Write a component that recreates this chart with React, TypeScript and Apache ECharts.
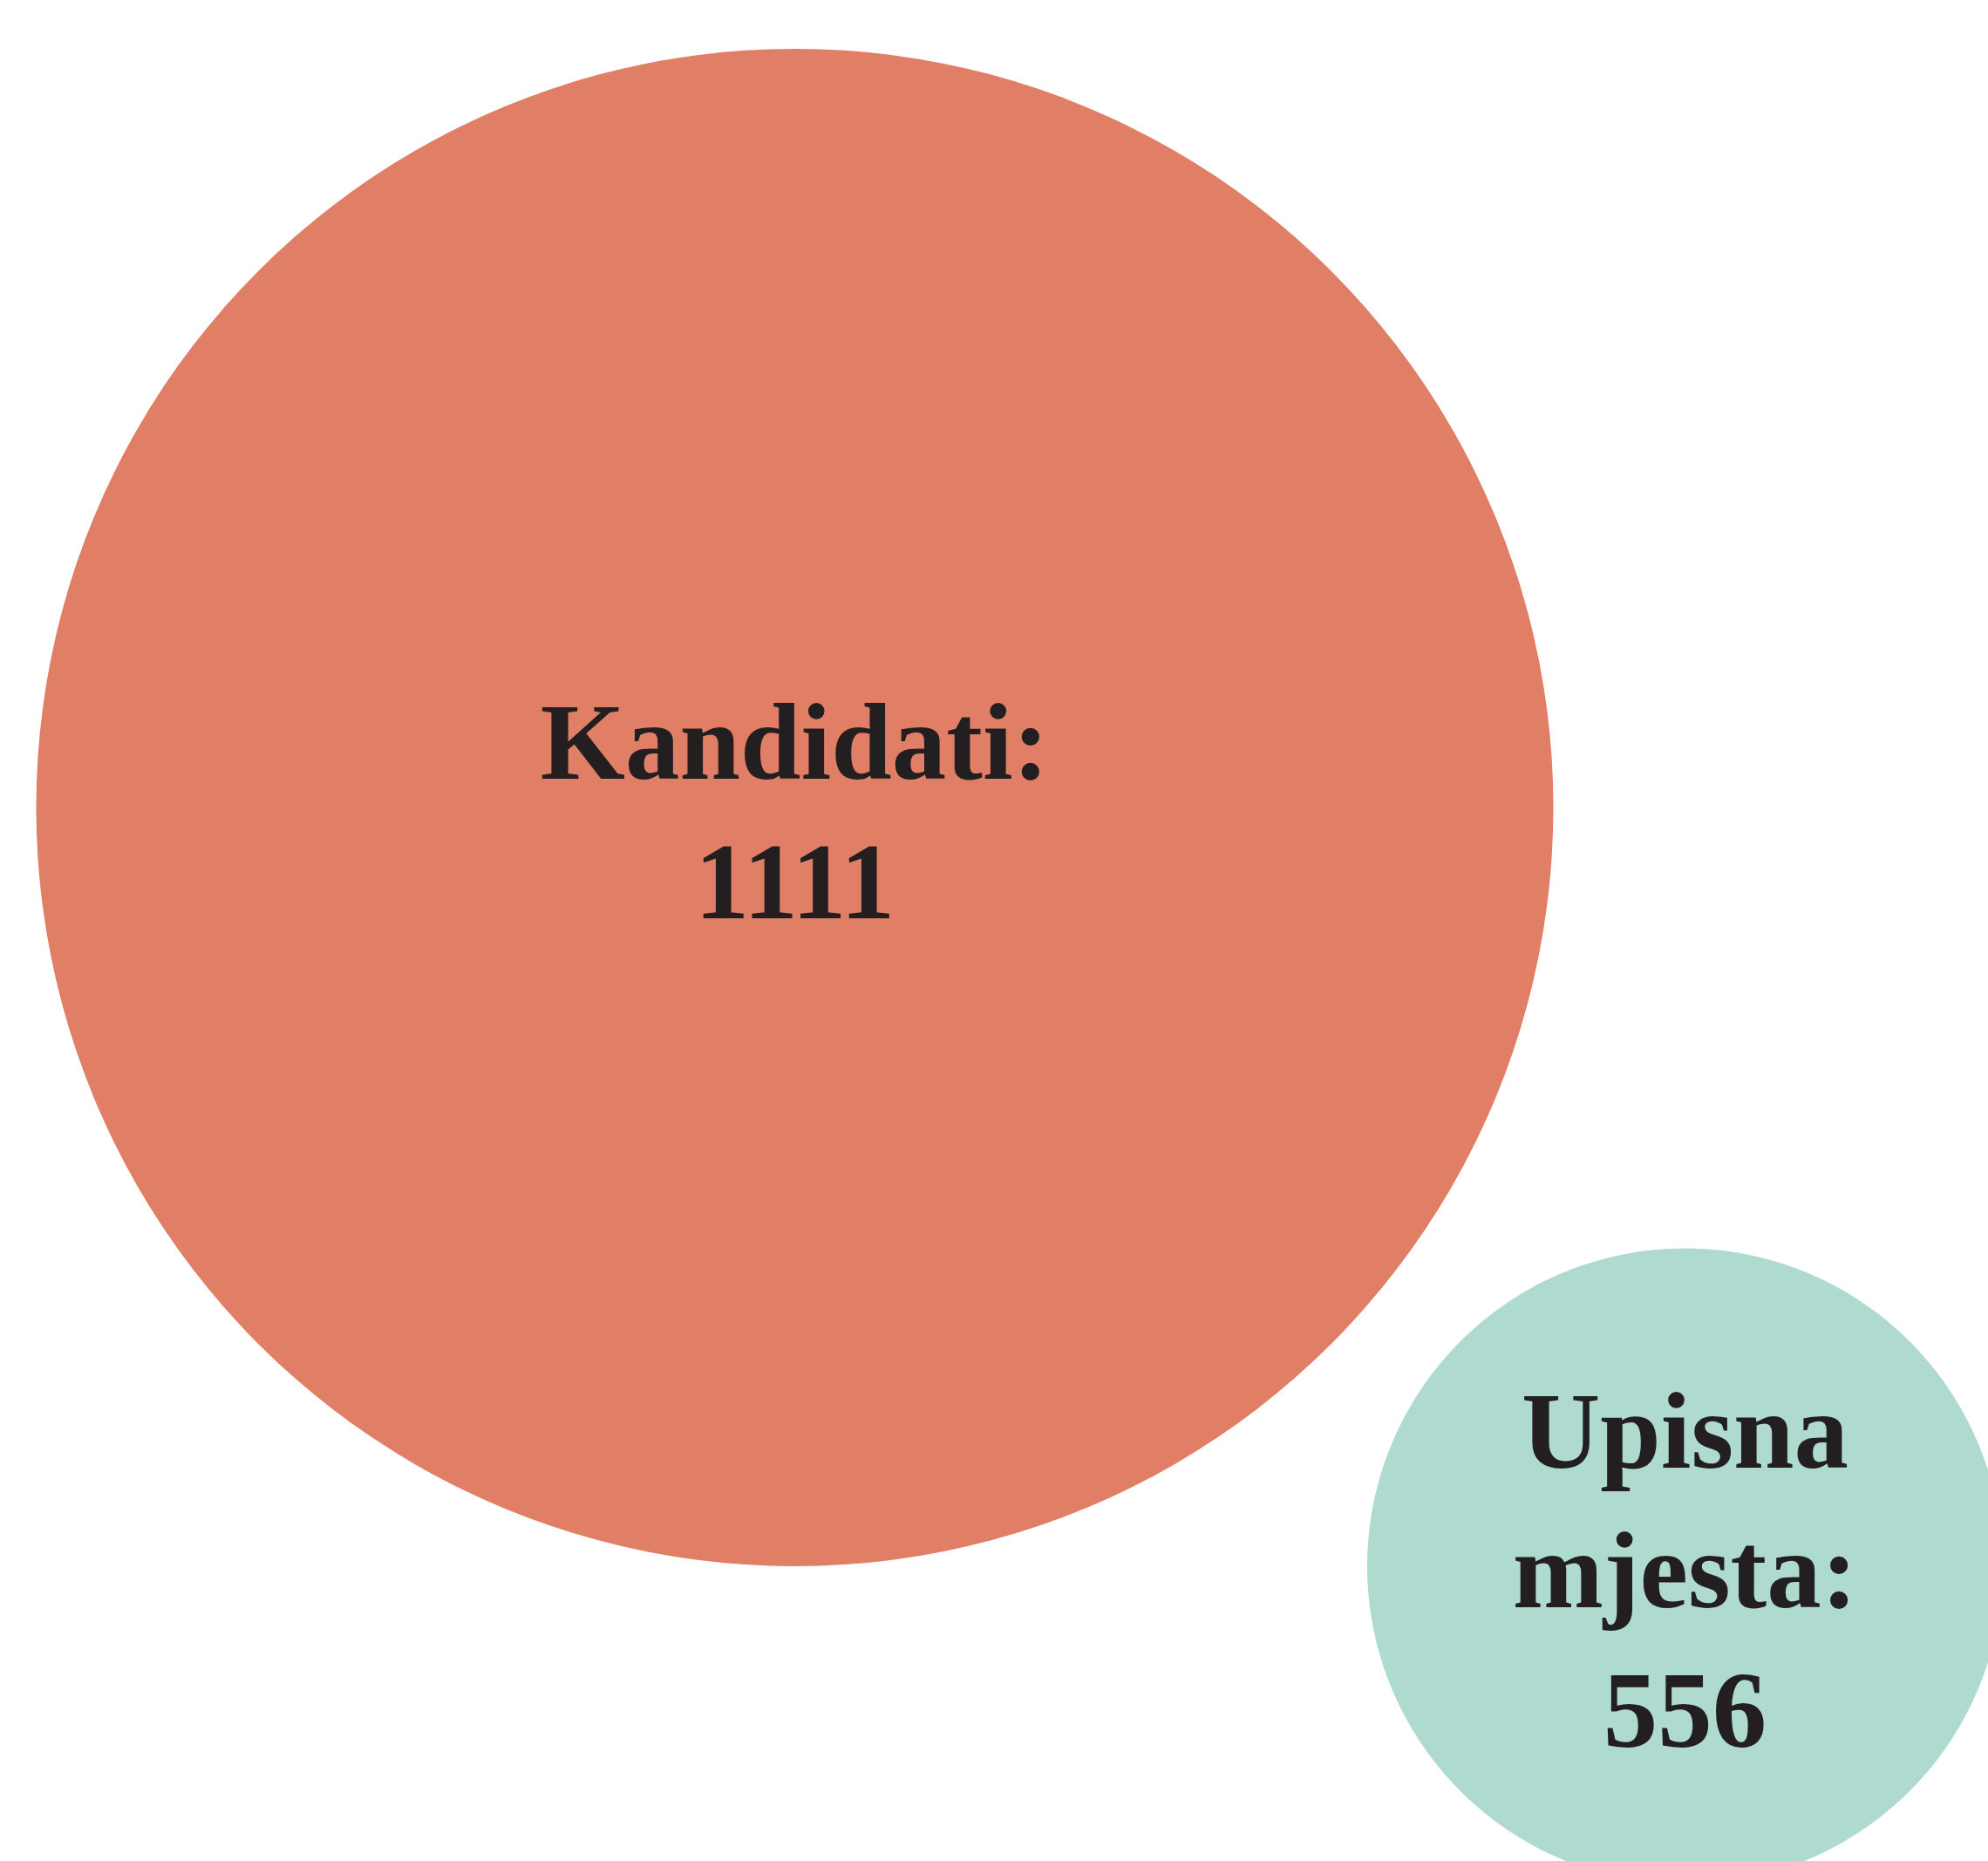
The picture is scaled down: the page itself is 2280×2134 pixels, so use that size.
import React, { useEffect, useRef } from "react";
import * as echarts from "echarts";

// Data
const categories = ["Kandidati", "Upisna mjesta"];
const counts = [1111, 556];

// Layout (pixel positions / diameters on the 2280x2134 canvas) — kept apart from data
const centersX = [911.5, 1932.5];
const centersY = [926, 1796];
const diameters = [1740, 729];
const colors = ["#E17E66", "#AEDACF"];

const W = 2280;
const H = 2134;

export default function App() {
  const ref = useRef<HTMLDivElement>(null);

  useEffect(() => {
    if (!ref.current) return;
    const chart = echarts.init(ref.current, null, { renderer: "svg" });
    const data = categories.map((name, i) => ({
      name,
      value: [centersX[i], centersY[i], counts[i]],
      symbolSize: diameters[i],
      itemStyle: { color: colors[i], opacity: 1 },
    }));
    chart.setOption({
      animation: false,
      backgroundColor: "#ffffff",
      grid: { left: 0, right: 0, top: 0, bottom: 0 },
      xAxis: { type: "value", min: 0, max: W, show: false },
      yAxis: { type: "value", min: 0, max: H, inverse: true, show: false },
      series: [
        {
          type: "scatter",
          symbol: "circle",
          clip: false,
          data,
          itemStyle: { opacity: 1 },
          emphasis: { disabled: true },
          label: {
            show: true,
            position: "inside",
            offset: [0, 5],
            formatter: (p: any) =>
              p.name.split(" ").join("\n") + ":\n" + p.value[2],
            color: "#231F20",
            opacity: 1,
            fontFamily: "Liberation Serif",
            fontWeight: "bold",
            fontSize: 125,
            lineHeight: 160,
            align: "center",
            verticalAlign: "middle",
          },
        },
      ],
    });
    return () => chart.dispose();
  }, []);

  return (
    <div
      ref={ref}
      style={{ position: "absolute", left: 0, top: 0, width: W, height: H }}
    />
  );
}
